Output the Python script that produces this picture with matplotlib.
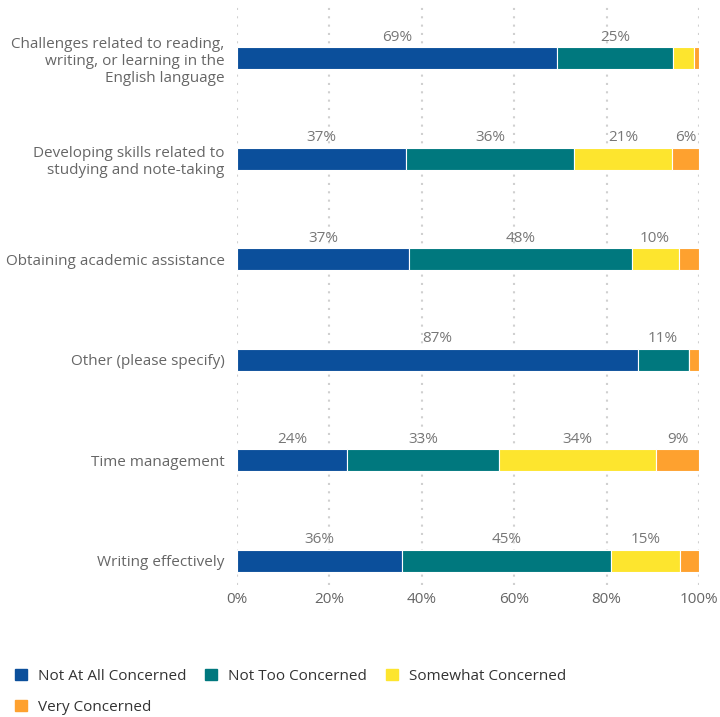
import numpy as np
import matplotlib.pyplot as plt
from matplotlib.patches import Patch

plt.rcParams['font.family'] = ['Open Sans', 'DejaVu Sans']

categories = ["Challenges related to reading,\nwriting, or learning in the\nEnglish language",
              "Developing skills related to\nstudying and note-taking",
              "Obtaining academic assistance",
              "Other (please specify)",
              "Time management",
              "Writing effectively"]
series = ["Not At All Concerned", "Not Too Concerned", "Somewhat Concerned", "Very Concerned"]
not_at_all = [69.3, 36.6, 37.2, 86.7, 23.8, 35.7]
not_too = [25.1, 36.3, 48.2, 11.1, 32.9, 45.3]
somewhat = [4.5, 21.3, 10.2, 0.0, 34.0, 14.8]
very = [1.1, 5.8, 4.4, 2.2, 9.3, 4.2]
colors = ['#0b4f9b', '#00787e', '#fde52e', '#fea12f']

fig = plt.figure(figsize=(7.2, 7.17), dpi=100)
ax = fig.add_axes([237 / 720, 1 - 585 / 717, 462 / 720, 580 / 717])

y = np.arange(len(categories))
left = np.zeros(len(categories))
for name, vals, col in zip(series, [not_at_all, not_too, somewhat, very], colors):
    vals = np.array(vals)
    ax.barh(y, vals, left=left, height=0.22, color=col, edgecolor='white', linewidth=0.8, label=name)
    for i, v in enumerate(vals):
        if v >= 5:
            ax.text(left[i] + v / 2, y[i] - 0.21, f"{v:.0f}%", ha='center', va='center',
                    fontsize=11, color='#777777')
    left += vals

ax.set_xlim(0, 100)
ax.set_ylim(5.24, -0.53)
ax.set_yticks(y)
ax.set_yticklabels(categories, fontsize=11, color='#666666')
ax.set_xticks(np.arange(0, 101, 20))
ax.set_xticklabels([f"{t}%" for t in range(0, 101, 20)], fontsize=11, color='#666666')
ax.tick_params(length=0, pad=5)
ax.tick_params(axis='y', pad=9)
ax.grid(axis='x', color='#d0d0d0', linestyle=(0, (1, 3)), linewidth=1.5)
ax.set_axisbelow(True)
for s in ax.spines.values():
    s.set_visible(False)

handles = [Patch(facecolor=c, edgecolor=c) for c in colors]
order = [0, 3, 1, 2]
fig.legend([handles[i] for i in order], [series[i] for i in order], ncol=3,
           loc='upper left', bbox_to_anchor=(1 / 720, 1 - 655 / 717), frameon=False,
           fontsize=11, labelcolor='#333333', handlelength=0.78, handleheight=0.78,
           columnspacing=1.25, handletextpad=0.72, labelspacing=1.05)

fig.savefig("out.png", dpi=100)
